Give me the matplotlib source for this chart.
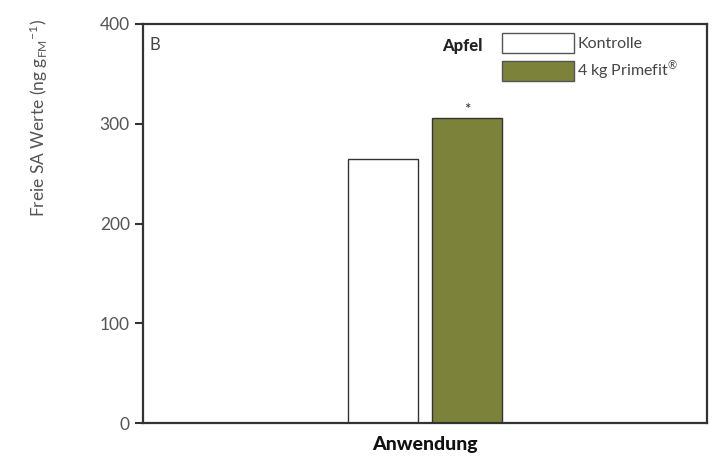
import matplotlib
matplotlib.use("Agg")
import matplotlib.pyplot as plt
from matplotlib.patches import Patch

# data
groups = ["Kontrolle", "4 kg Primefit$^{\\circledR}$"]
values = [265, 306]
bar_pos = [0.426, 0.5745]
colors = ["white", "#7c8239"]
significance = ["", "*"]

yticks = [0, 100, 200, 300, 400]

plt.rcParams["font.family"] = ["Lato", "DejaVu Sans"]
plt.rcParams["mathtext.fontset"] = "custom"
plt.rcParams["mathtext.rm"] = "Lato"
plt.rcParams["mathtext.it"] = "Lato"

fig = plt.figure(figsize=(7.13, 4.58), dpi=100)
ax = fig.add_axes([0.2006, 0.0764, 0.7910, 0.8712])

ax.bar(bar_pos, values, width=0.124, color=colors, edgecolor="#333333",
       linewidth=1.0, zorder=2)
for x, v, s in zip(bar_pos, values, significance):
    if s:
        ax.text(x, v + 1, s, ha="center", va="bottom", fontsize=11, color="#222222")

ax.set_xlim(0, 1)
ax.set_ylim(0, 400)
ax.set_yticks(yticks)
ax.set_xticks([])
ax.tick_params(axis="y", direction="out", length=6, width=1.5, colors="#333333",
               labelcolor="#555555", labelsize=12.5)
for sp in ax.spines.values():
    sp.set_linewidth(1.6)
    sp.set_color("#333333")

ax.set_xlabel("Anwendung", fontsize=14, fontweight="black", color="#111111", labelpad=9)
fig.text(0.054, 0.742, "Freie SA Werte (ng g$_{\\mathrm{FM}}$$^{-1}$)", rotation=90,
         ha="center", va="center", fontsize=12.5, color="#555555")

ax.text(0.012, 0.968, "B", transform=ax.transAxes, ha="left", va="top",
        fontsize=12, color="#444444")

handles = [Patch(facecolor=c, edgecolor="#555555", linewidth=1.0) for c in colors]
leg = ax.legend(handles, groups, loc="upper left", bbox_to_anchor=(0.6365, 0.978),
                frameon=False, fontsize=11.5, handlelength=4.5, handleheight=1.55,
                labelspacing=0.42, handletextpad=0.2, borderaxespad=0.0,
                borderpad=0.0)
for t in leg.get_texts():
    t.set_color("#444444")
ax.text(0.566, 0.945, "Apfel", transform=ax.transAxes, ha="center", va="center",
        fontsize=12, fontweight="black", color="#222222")

fig.savefig("out.png", dpi=100)
